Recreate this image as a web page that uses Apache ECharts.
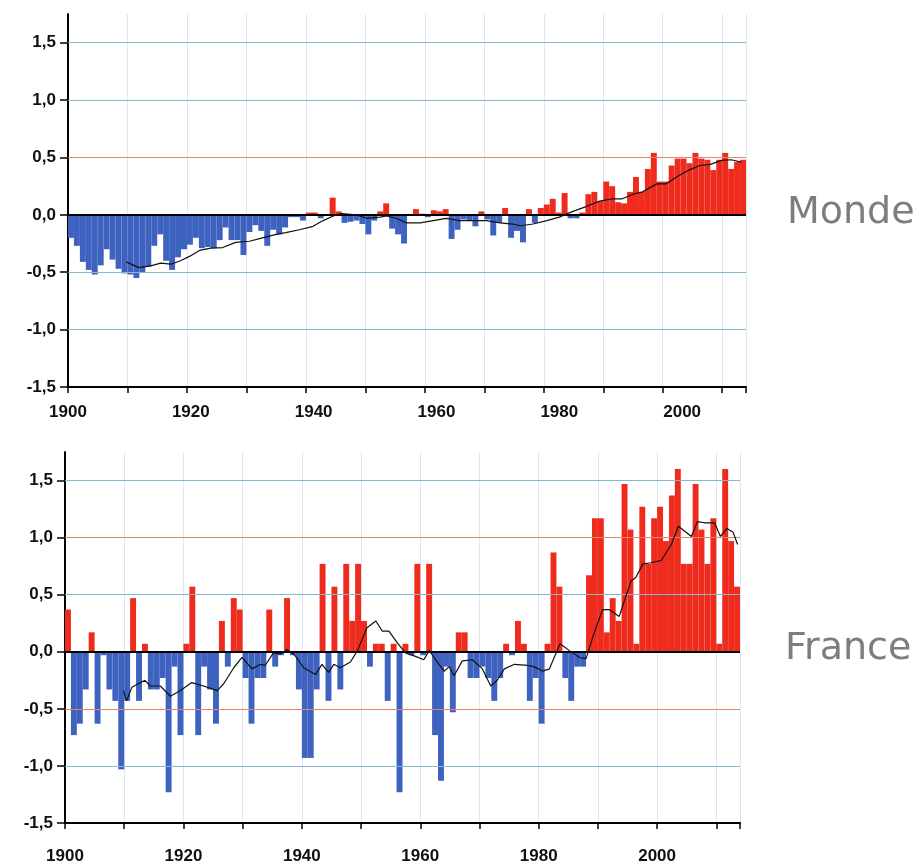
<!DOCTYPE html>
<html>
<head>
<meta charset="utf-8">
<script src="https://cdn.jsdelivr.net/npm/echarts@6/dist/echarts.min.js"></script>
<style>
html,body{margin:0;padding:0;background:#fff;}
#c{width:919px;height:866px;}
</style>
</head>
<body>
<div id="c"></div>
<script>
const START_YEAR = 1900;
const yTicks = [-1.5, -1.0, -0.5, 0, 0.5, 1.0, 1.5];
const xLabelYears = [1900, 1920, 1940, 1960, 1980, 2000];

const mondeValues = [
  -0.20,-0.27,-0.41,-0.48,-0.52,-0.44,-0.30,-0.39,-0.47,-0.51,
  -0.52,-0.55,-0.50,-0.45,-0.27,-0.17,-0.40,-0.48,-0.37,-0.30,
  -0.26,-0.20,-0.29,-0.28,-0.29,-0.22,-0.11,-0.22,-0.22,-0.35,
  -0.15,-0.09,-0.14,-0.27,-0.13,-0.17,-0.11,-0.02,-0.02,-0.05,
   0.02, 0.02,-0.03,-0.01, 0.15, 0.03,-0.07,-0.06,-0.05,-0.08,
  -0.17,-0.05, 0.03, 0.10,-0.12,-0.17,-0.25,-0.01, 0.05, 0.01,
  -0.02, 0.04, 0.03, 0.05,-0.21,-0.13,-0.04,-0.05,-0.10, 0.03,
  -0.04,-0.18,-0.07, 0.06,-0.20,-0.14,-0.24, 0.05,-0.07, 0.06,
   0.09, 0.14, 0.02, 0.19,-0.03,-0.03, 0.02, 0.18, 0.20, 0.12,
   0.29, 0.25, 0.11, 0.10, 0.20, 0.33, 0.20, 0.40, 0.54, 0.29,
   0.29, 0.43, 0.49, 0.49, 0.45, 0.54, 0.49, 0.48, 0.39, 0.48,
   0.54, 0.40, 0.46, 0.48
];

const franceValues = [
   0.37,-0.73,-0.63,-0.33, 0.17,-0.63,-0.03,-0.33,-0.43,-1.03,
  -0.43, 0.47,-0.43, 0.07,-0.33,-0.33,-0.23,-1.23,-0.13,-0.73,
   0.07, 0.57,-0.73,-0.13,-0.33,-0.63, 0.27,-0.13, 0.47, 0.37,
  -0.23,-0.63,-0.23,-0.23, 0.37,-0.13,-0.03, 0.47,-0.03,-0.33,
  -0.93,-0.93,-0.33, 0.77,-0.43, 0.57,-0.33, 0.77, 0.27, 0.77,
   0.27,-0.13, 0.07, 0.07,-0.43, 0.07,-1.23, 0.07,-0.03, 0.77,
  -0.03, 0.77,-0.73,-1.13,-0.13,-0.53, 0.17, 0.17,-0.23,-0.23,
  -0.13,-0.23,-0.43,-0.23, 0.07,-0.03, 0.27, 0.07,-0.43,-0.23,
  -0.63, 0.07, 0.87, 0.57,-0.23,-0.43,-0.13,-0.13, 0.67, 1.17,
   1.17, 0.17, 0.47, 0.27, 1.47, 1.07, 0.07, 1.27, 0.77, 1.17,
   1.27, 0.97, 1.37, 1.60, 0.77, 0.77, 1.47, 1.07, 0.77, 1.17,
   0.07, 1.60, 0.97, 0.57
];

// running-mean curves: [year position, value]
const mondeCurve = [
  [1909.8,-0.41],[1911.9,-0.46],[1913.9,-0.445],[1915.6,-0.42],[1917.3,-0.43],[1918.9,-0.40],
  [1920.5,-0.36],[1922.1,-0.31],[1924,-0.29],[1926,-0.285],[1928.2,-0.24],[1930.5,-0.23],
  [1932.7,-0.20],[1935,-0.17],[1936.6,-0.155],[1938.9,-0.13],[1941.2,-0.10],[1942.9,-0.05],
  [1944.6,-0.01],[1946,0.01],[1948.5,0.0],[1950.2,-0.03],[1952.4,-0.02],[1953.6,-0.01],
  [1955.2,-0.03],[1956.9,-0.07],[1959.2,-0.07],[1961.4,-0.05],[1963.6,-0.03],[1965.9,-0.05],
  [1968.1,-0.05],[1970.4,-0.05],[1972.6,-0.07],[1974.8,-0.08],[1976.1,-0.095],[1978.2,-0.08],
  [1980.5,-0.05],[1982.6,-0.02],[1984.9,0.03],[1987,0.07],[1989.4,0.12],[1991.6,0.14],
  [1993.2,0.14],[1995,0.18],[1996.6,0.20],[1999,0.27],[2000.6,0.27],[2002.3,0.33],
  [2004.4,0.39],[2006.2,0.43],[2008,0.44],[2009.9,0.475],[2011.5,0.48],[2013.2,0.46]
];

const franceCurve = [
  [1909.9,-0.34],[1910.4,-0.43],[1911.3,-0.31],[1913.5,-0.25],[1914.4,-0.30],[1916.1,-0.30],
  [1917.8,-0.39],[1919.5,-0.34],[1921.4,-0.27],[1923.4,-0.30],[1925.7,-0.34],[1926.8,-0.28],
  [1928.5,-0.14],[1929.9,-0.05],[1931.6,-0.15],[1933,-0.11],[1933.8,-0.12],[1935.2,-0.01],
  [1936.4,-0.02],[1937.5,0.02],[1938.8,-0.03],[1940.3,-0.14],[1942.3,-0.20],[1943.4,-0.11],
  [1944.5,-0.18],[1945.4,-0.11],[1946.5,-0.14],[1948.2,-0.09],[1949.4,0.01],[1951,0.21],
  [1952.5,0.27],[1953.6,0.18],[1954.7,0.18],[1956.1,0.08],[1957.5,-0.01],[1959.2,-0.04],
  [1960.6,-0.07],[1961.5,0.01],[1962.9,-0.09],[1964,-0.17],[1964.9,-0.13],[1965.7,-0.21],
  [1967.1,-0.08],[1968.8,-0.07],[1970.5,-0.15],[1971.9,-0.30],[1973,-0.25],[1974.2,-0.15],
  [1975.9,-0.11],[1978.1,-0.12],[1979.2,-0.13],[1980.7,-0.17],[1981.8,-0.15],[1983.6,0.07],
  [1985.2,0.01],[1986.9,-0.05],[1988,-0.06],[1989.4,0.17],[1990.8,0.37],[1991.9,0.37],
  [1993.6,0.31],[1995.6,0.62],[1996.4,0.65],[1997.6,0.77],[1999,0.78],[2000.7,0.80],
  [2002.4,0.94],[2003.6,1.10],[2005.8,1.01],[2006.8,1.14],[2008,1.13],[2009.7,1.13],
  [2010.7,1.01],[2011.8,1.08],[2012.8,1.05],[2013.6,0.94]
];

const RED = '#ee2b1d';
const BLUE = '#3e62bf';
const GRID_BLUE = '#86b9cc';
const GRID_RED = '#e4846a';

function barData(vals){ return vals.map((v,i)=>[START_YEAR + i + 0.5, v]); }

function hLines(redLevels){
  const d = [];
  yTicks.forEach(t=>{
    if (t === -1.5) return;
    if (t === 0) d.push({yAxis:0, lineStyle:{color:'#000', width:2, type:'solid'}});
    else d.push({yAxis:t, lineStyle:{color: redLevels.includes(t) ? GRID_RED : GRID_BLUE, width:1.2, type:'solid'}});
  });
  return d;
}

const labelFont = {fontFamily:'Liberation Sans, Arial, sans-serif', fontWeight:'bold', fontSize:17, color:'#111'};

function yAxisDef(gi){
  return {
    gridIndex: gi, type:'value', min:-1.5, max:1.75, interval:0.5,
    axisLine:{show:true, onZero:false, lineStyle:{color:'#000', width:2}},
    axisTick:{show:true, inside:false, length:8, lineStyle:{color:'#000', width:1.5}, customValues: yTicks},
    axisLabel: Object.assign({margin:12, customValues: yTicks,
      formatter: v => (Math.abs(v*2 - Math.round(v*2)) < 1e-6 && v <= 1.5) ? v.toFixed(1).replace('.', ',') : ''}, labelFont),
    splitLine:{show:false}
  };
}

const chart = echarts.init(document.getElementById('c'), null, {renderer:'canvas'});
chart.setOption({
  animation:false,
  backgroundColor:'#fff',
  title:[
    {text:'Monde', left:782, top:189, textStyle:{fontFamily:'DejaVu Sans', fontWeight:'normal', fontSize:38, color:'#7d7d7d'}},
    {text:'France', left:780, top:625, textStyle:{fontFamily:'DejaVu Sans', fontWeight:'normal', fontSize:38, color:'#7d7d7d'}}
  ],
  grid:[
    {left:68, top:14, width:678, height:373},
    {left:65, top:452, width:675, height:371}
  ],
  xAxis:[
    {gridIndex:0, type:'value', min:1900, max:2014, interval:10,
     axisLine:{onZero:false, lineStyle:{color:'#000', width:2}},
     axisTick:{show:true, length:6, lineStyle:{color:'#000', width:1.5}},
     axisLabel:{show:false},
     splitLine:{show:true, lineStyle:{color:'#dbe8f3', width:1}}},
    {gridIndex:0, type:'value', min:1900, max:2010.4, interval:20, position:'bottom',
     axisLine:{show:false}, axisTick:{show:false}, splitLine:{show:false},
     axisLabel: Object.assign({margin:17, showMaxLabel:false,
       formatter: v => (xLabelYears.includes(v) ? String(v) : '')}, labelFont)},
    {gridIndex:1, type:'value', min:1900, max:2014, interval:10,
     axisLine:{onZero:false, lineStyle:{color:'#000', width:2}},
     axisTick:{show:true, length:6, lineStyle:{color:'#000', width:1.5}},
     axisLabel: Object.assign({margin:25, formatter: v => (xLabelYears.includes(v) ? String(v) : '')}, labelFont),
     splitLine:{show:true, lineStyle:{color:'#dbe8f3', width:1}}}
  ],
  yAxis:[yAxisDef(0), yAxisDef(1)],
  series:[
    {type:'bar', xAxisIndex:0, yAxisIndex:0, barWidth:'100%', data: barData(mondeValues),
     itemStyle:{color: p => p.value[1] >= 0 ? RED : BLUE},
     markLine:{silent:true, symbol:'none', label:{show:false}, data: hLines([0.5])}},
    {type:'line', xAxisIndex:0, yAxisIndex:0, data: mondeCurve, showSymbol:false, z:5,
     lineStyle:{color:'#111', width:1.2}},
    {type:'bar', xAxisIndex:2, yAxisIndex:1, barWidth:'100%', data: barData(franceValues),
     itemStyle:{color: p => p.value[1] >= 0 ? RED : BLUE},
     markLine:{silent:true, symbol:'none', label:{show:false}, data: hLines([1.0, -0.5])}},
    {type:'line', xAxisIndex:2, yAxisIndex:1, data: franceCurve, showSymbol:false, z:5,
     lineStyle:{color:'#111', width:1.2}}
  ]
});
</script>
</body>
</html>
